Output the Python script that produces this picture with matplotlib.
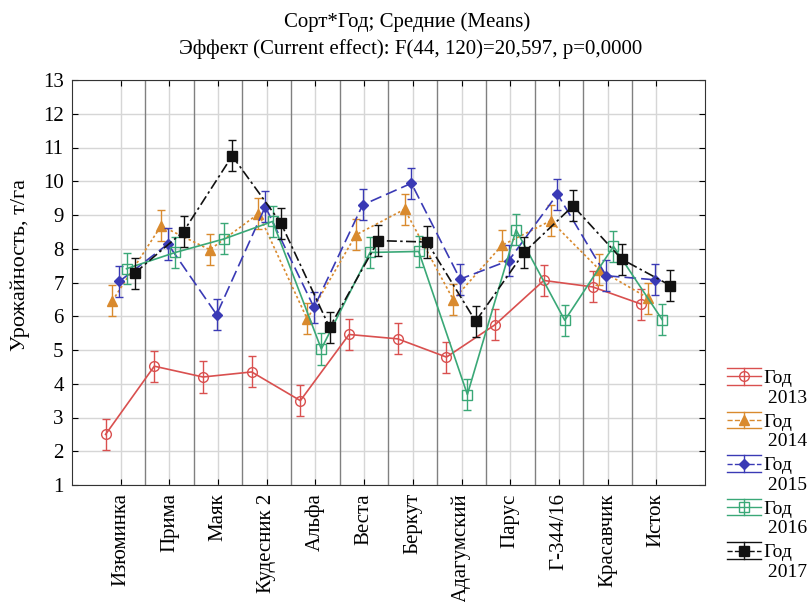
import numpy as np
import matplotlib.pyplot as plt
from matplotlib.lines import Line2D
from matplotlib.legend_handler import HandlerBase

plt.rcParams['font.family'] = ['Liberation Serif', 'DejaVu Serif']

varieties = ['Изюминка', 'Прима', 'Маяк', 'Кудесник 2', 'Альфа', 'Веста',
             'Беркут', 'Адагумский', 'Парус', 'Г-344/16', 'Красавчик', 'Исток']
years = ['2013', '2014', '2015', '2016', '2017']

y2013 = [2.50, 4.52, 4.20, 4.35, 3.50, 5.46, 5.33, 4.79, 5.75, 7.06, 6.87, 6.36]
y2014 = [6.46, 8.68, 7.97, 9.04, 5.92, 8.41, 9.17, 6.49, 8.10, 8.83, 7.38, 6.54]
y2015 = [7.03, 8.14, 6.05, 9.25, 6.26, 9.30, 9.94, 7.10, 7.65, 9.62, 7.20, 7.08]
y2016 = [7.41, 7.89, 8.29, 8.81, 5.03, 7.89, 7.92, 3.68, 8.56, 5.88, 8.07, 5.90]
y2017 = [7.28, 8.51, 10.75, 8.76, 5.67, 8.24, 8.20, 5.85, 7.90, 9.27, 7.69, 6.91]
ci_half = [0.46, 0.46, 0.46, 0.46, 0.46]

series = [y2013, y2014, y2015, y2016, y2017]

# styles per year: color, linestyle, marker, filled, marker size
styles = [
    ('#d9504f', '-', 'o', False, 7),
    ('#d98a2e', (0, (1.5, 1.5)), '^', True, 7),
    ('#3a3ab5', (0, (7, 3)), 'D', True, 5),
    ('#3aa877', '-', 's', False, 7),
    ('#111111', (0, (6, 2, 1.5, 2)), 's', True, 7),
]
offsets = [-0.31, -0.17, -0.03, 0.12, 0.29]


class ErrbarHandler(HandlerBase):
    # errorbar-like legend key: two wide caps, line with marker in between
    def create_artists(self, legend, orig_handle, xdescent, ydescent,
                       width, height, fontsize, trans):
        color = orig_handle.get_color()
        y0 = height / 2 - ydescent + 0.6 * fontsize
        d = 6
        x0, x1 = -xdescent, -xdescent + width
        xm = (x0 + x1) / 2
        arts = []
        for yy in (y0 - d, y0 + d):
            arts.append(Line2D([x0, x1], [yy, yy], color=color, lw=1))
        arts.append(Line2D([x0, x1], [y0, y0], color=color, lw=1,
                           ls=orig_handle.get_linestyle()))
        arts.append(Line2D([xm, xm], [y0 - d, y0 + d], color=color, lw=1))
        arts.append(Line2D([xm], [y0], marker=orig_handle.get_marker(),
                           mfc=orig_handle.get_markerfacecolor(), mec=color,
                           ms=orig_handle.get_markersize(), ls='none'))
        for a in arts:
            a.set_transform(trans)
        return arts


fig = plt.figure(figsize=(8.11, 6.02), dpi=100)
ax = fig.add_axes([72 / 811, 1 - 485 / 602, (705 - 72) / 811, (485 - 80) / 602])

x = np.arange(len(varieties))
handles = []
for j, vals in enumerate(series):
    color, ls, marker, filled, ms = styles[j]
    mfc = color if filled else 'none'
    ax.errorbar(x + offsets[j], vals, yerr=ci_half[j], color=color, ls=ls,
                lw=1.2, marker=marker, mfc=mfc, mec=color, ms=ms,
                capsize=3, elinewidth=1, capthick=1, zorder=3 + j)
    handles.append(Line2D([], [], color=color, ls=ls, marker=marker,
                          mfc=mfc, ms=ms))

for s in x[:-1] + 0.5:
    ax.axvline(s, color='#808080', lw=1, zorder=1)

ax.set_xlim(-1, 12)
ax.set_ylim(1, 13)
ax.set_xticks(x)
ax.set_xticklabels(varieties, rotation=90, fontsize=15)
ax.set_yticks(range(1, 14))
ax.grid(color='#d6d6d6', lw=1, zorder=0)
ax.set_axisbelow(True)
ax.tick_params(direction='in', top=True, right=True, length=4,
               labelsize=15, pad=6)
for sp in ax.spines.values():
    sp.set_color('#333333')

fig.text(20 / 811, 1 - 265 / 602, 'Урожайность, т/га', rotation=90,
         ha='center', va='center', fontsize=16)
fig.text(0.502, 1 - 22 / 602, 'Сорт*Год; Средние (Means)',
         ha='center', va='center', fontsize=15)
fig.text(0.506, 1 - 49 / 602,
         'Эффект (Current effect): F(44, 120)=20,597, p=0,0000',
         ha='center', va='center', fontsize=15)

labels = ['Год\n ' + y for y in years]
fig.legend(handles, labels, loc='upper left',
           bbox_to_anchor=(727 / 811, 1 - 370 / 602), frameon=False,
           handler_map={Line2D: ErrbarHandler()}, fontsize=14,
           handlelength=1.75, handletextpad=0.1, labelspacing=0.36,
           borderpad=0, borderaxespad=0)

fig.savefig('out.png', dpi=100)
